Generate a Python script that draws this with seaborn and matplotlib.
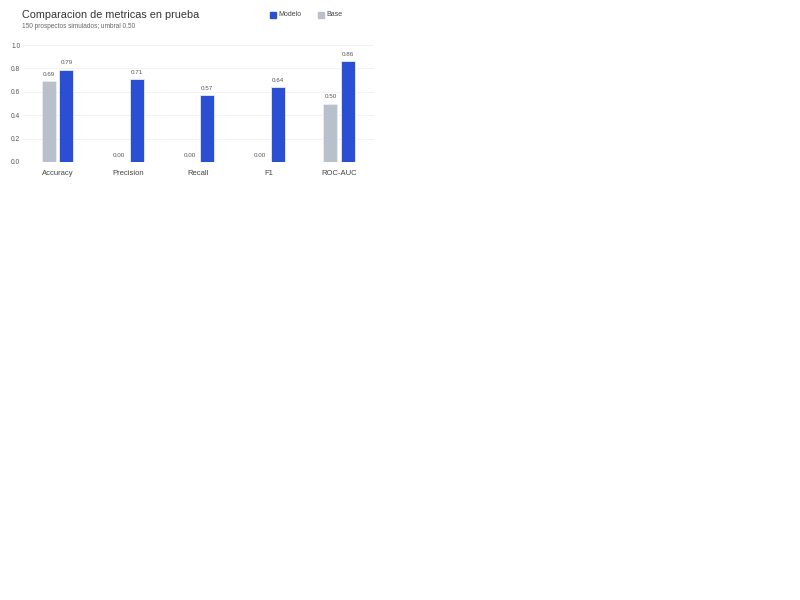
import matplotlib.pyplot as plt
import seaborn as sns
import pandas as pd

# ---------------- data ----------------
metricas = ["Accuracy", "Precision", "Recall", "F1", "ROC-AUC"]
valores_modelo = [0.79, 0.71, 0.57, 0.64, 0.86]
valores_base = [0.69, 0.00, 0.00, 0.00, 0.50]
series = ["Base", "Modelo"]
y_ticks = [0.0, 0.2, 0.4, 0.6, 0.8, 1.0]

df = pd.DataFrame({
    "metrica": metricas * 2,
    "valor": valores_base + valores_modelo,
    "serie": ["Base"] * len(metricas) + ["Modelo"] * len(metricas),
})

colores = {"Modelo": "#2a4fd3", "Base": "#b9c0cc"}

sns.set_theme(style="white")
plt.rcParams['font.family'] = ['Liberation Sans', 'DejaVu Sans']

fig = plt.figure(figsize=(8, 6), dpi=100)
ax = fig.add_axes([0.028, 0.73, 0.44, 0.195])

sns.barplot(data=df, x="metrica", y="valor", hue="serie", hue_order=series,
            palette=colores, width=0.5, gap=0.2, ax=ax, legend=False,
            edgecolor="#e8ecf5", linewidth=0.6, saturation=1)

for cont in ax.containers:
    ax.bar_label(cont, fmt="%.2f", fontsize=4.5, color="#555555", padding=3)

ax.set_xlim(-0.5, 4.5)
ax.set_ylim(0, 1.0)
ax.set_yticks(y_ticks)
ax.set_yticklabels([f"{t:.1f}" for t in y_ticks])
ax.tick_params(axis="y", labelsize=4.8, colors="#555555", length=0, pad=1.5)
ax.tick_params(axis="x", labelsize=5.5, colors="#444444", length=0, pad=6)
ax.set_xlabel("")
ax.set_ylabel("")
ax.yaxis.grid(True, color="#f0f0f3", linewidth=0.6)
ax.set_axisbelow(True)
sns.despine(ax=ax, left=True, bottom=True)

fig.text(0.028, 0.975, "Comparacion de metricas en prueba", fontsize=7.8,
         color="#333333", va="center")
fig.text(0.028, 0.955, "150 prospectos simulados; umbral 0.50", fontsize=4.7,
         color="#666666", va="center")

# legend
fig.patches.append(plt.Rectangle((0.337, 0.970), 0.0075, 0.01, color=colores["Modelo"],
                                 transform=fig.transFigure, figure=fig))
fig.text(0.348, 0.975, "Modelo", fontsize=5, color="#444444", va="center")
fig.patches.append(plt.Rectangle((0.397, 0.970), 0.0075, 0.01, color=colores["Base"],
                                 transform=fig.transFigure, figure=fig))
fig.text(0.408, 0.975, "Base", fontsize=5, color="#444444", va="center")

fig.savefig("out.png", dpi=100, facecolor="white")
